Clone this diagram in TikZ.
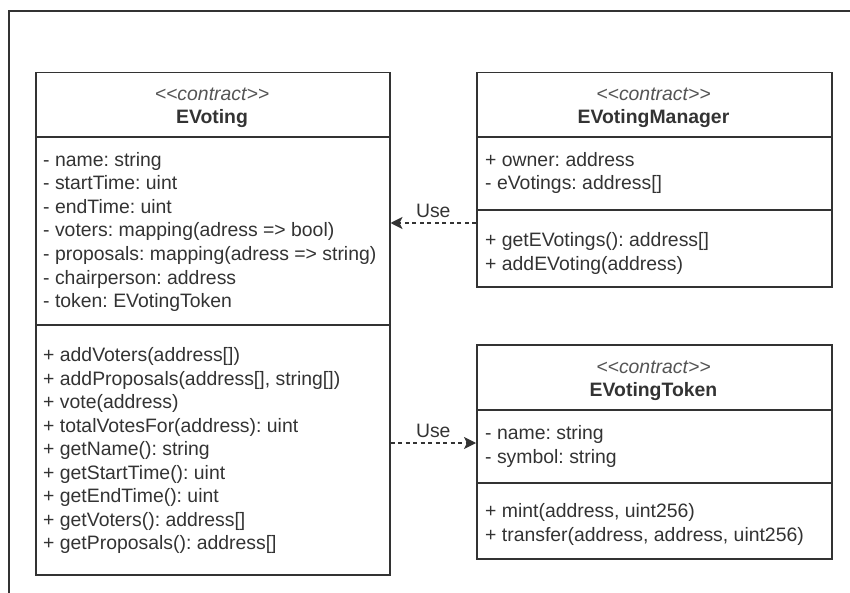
\documentclass[tikz,border=0pt]{standalone}
\usepackage{fontspec}
\setmainfont{Liberation Sans}
\usetikzlibrary{arrows.meta}
\frenchspacing
\definecolor{ink}{HTML}{333333}
\definecolor{stereo}{HTML}{555555}
\tikzset{
  box/.style={draw=ink, line width=1.5pt, inner sep=0pt, anchor=north west, fill=white},
  sep/.style={draw=ink, line width=1.5pt},
  txt/.style={inner sep=0pt, anchor=base west, text=ink, font=\fontsize{19.4}{23.5}\selectfont},
  head/.style={inner sep=0pt, anchor=base, text=ink, font=\fontsize{19.4}{23.5}\selectfont\bfseries},
  ster/.style={inner sep=0pt, anchor=base, text=stereo, font=\fontsize{19.4}{23.5}\selectfont\itshape},
  usearrow/.style={draw=ink, line width=1.2pt, dash pattern=on 4pt off 3.5pt, -{Stealth[length=12pt,width=12pt,inset=3pt]}},
  uselabel/.style={inner sep=0pt, text=ink, font=\fontsize{19.4}{23.5}\selectfont}
}
\begin{document}
\begin{tikzpicture}[x=1pt,y=-1pt]
\useasboundingbox (0,0) rectangle (850,593);
% frame
\coordinate (fr1) at (850,11);
\coordinate (fr2) at (9,11);
\coordinate (fr3) at (9,593);
\draw[draw=ink, line width=1.5pt] (fr1) -- (fr2) -- (fr3);

% EVoting
\node[box, minimum width=354pt, minimum height=502pt] (ev) at (35,72) {};
\draw[sep] (35,137) -- (389,137);
\draw[sep] (35,325) -- (389,325);
\node[ster] (evs) at (212,101) {<\kern0pt<contract>\kern0pt>};
\node[head] (evh) at (212,124) {EVoting};
\foreach [count=\i] \t in {- name: string, - startTime: uint, - endTime: uint, - voters: mapping(adress => bool), - proposals: mapping(adress => string), - chairperson: address, - token: EVotingToken}
  \node[txt] (eva\i) at (43,{166.5+23.5*(\i-1)}) {\t};
\foreach [count=\i] \t in {+ addVoters(address[]), {+ addProposals(address[], string[])}, + vote(address), + totalVotesFor(address): uint, + getName(): string, + getStartTime(): uint, + getEndTime(): uint, + getVoters(): address[], + getProposals(): address[]}
  \node[txt] (evm\i) at (43,{361.5+23.5*(\i-1)}) {\t};

% EVotingManager
\node[box, minimum width=355pt, minimum height=214pt] (mgr) at (476,72) {};
\draw[sep] (476,137) -- (831,137);
\draw[sep] (476,210) -- (831,210);
\node[ster] (mgs) at (653.5,101) {<\kern0pt<contract>\kern0pt>};
\node[head] (mgh) at (653.5,124) {EVotingManager};
\node[txt] (mga1) at (485,166.5) {+ owner: address};
\node[txt] (mga2) at (485,190) {- eVotings: address[]};
\node[txt] (mgm1) at (485,246.5) {+ getEVotings(): address[]};
\node[txt] (mgm2) at (485,270) {+ addEVoting(address)};

% EVotingToken
\node[box, minimum width=355pt, minimum height=214pt] (tok) at (476,344) {};
\draw[sep] (476,410) -- (831,410);
\draw[sep] (476,483) -- (831,483);
\node[ster] (tks) at (653.5,373) {<\kern0pt<contract>\kern0pt>};
\node[head] (tkh) at (653.5,396) {EVotingToken};
\node[txt] (tka1) at (485,439.5) {- name: string};
\node[txt] (tka2) at (485,463) {- symbol: string};
\node[txt] (tkm1) at (485,517.5) {+ mint(address, uint256)};
\node[txt] (tkm2) at (485,541) {+ transfer(address, address, uint256)};

% connectors
\draw[usearrow] (mgr.west |- 0,223) -- node[uselabel, above=5pt, midway] (l1) {Use} (ev.east |- 0,223);
\draw[usearrow] (ev.east |- 0,443) -- node[uselabel, above=5pt, midway] (l2) {Use} (tok.west |- 0,443);
\end{tikzpicture}
\end{document}
